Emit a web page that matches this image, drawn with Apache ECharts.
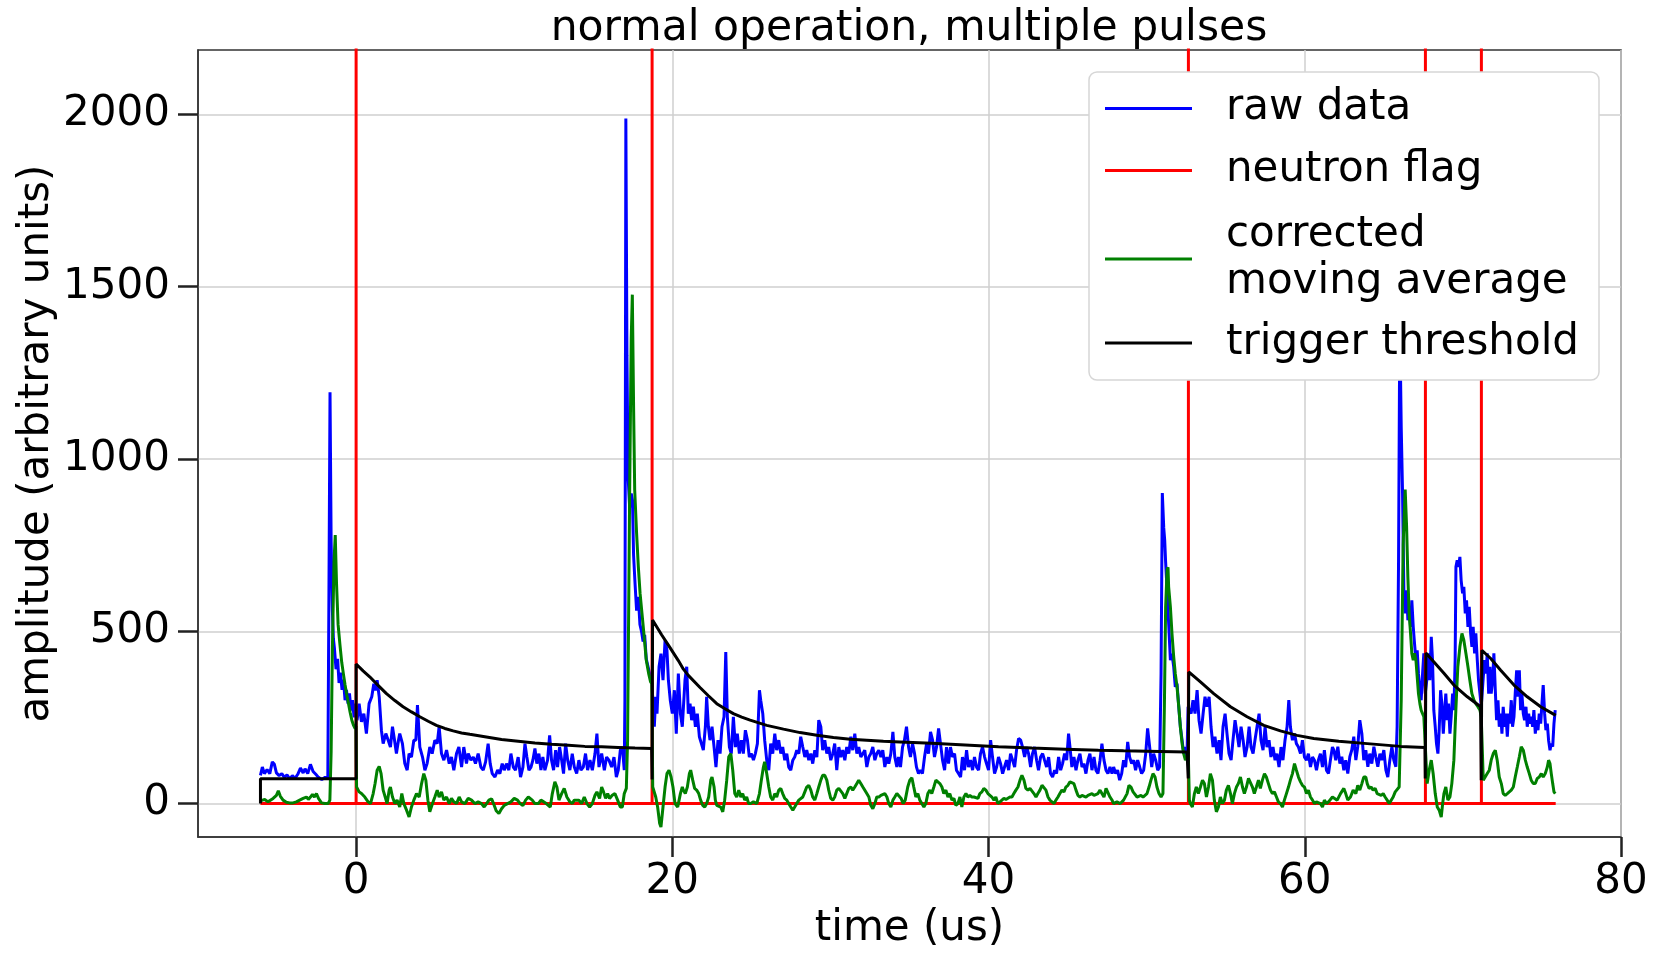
<!DOCTYPE html>
<html><head><meta charset="utf-8">
<script src="https://cdn.jsdelivr.net/npm/echarts@6/dist/echarts.min.js"></script>
<style>html,body{margin:0;padding:0;background:#fff}#c{width:1662px;height:957px}</style>
</head><body><div id="c"></div>
<script>
// time (us), amplitude
const rawData = [
[-6.05,82],[-5.93,106],[-5.80,87],[-5.63,99],[-5.46,87],[-5.30,121],[-5.17,114],[-5.04,89],[-4.87,81],[-4.70,87],[-4.54,76],[-4.37,83],[-4.20,72],[-4.03,81],[-3.86,73],[-3.69,85],[-3.52,103],[-3.35,89],[-3.23,101],[-3.06,87],[-2.89,114],[-2.72,93],[-2.55,85],[-2.38,76],[-2.17,70],[-1.96,76],[-1.79,72],[-1.72,600],[-1.65,1194],[-1.58,760],[-1.50,560],[-1.44,480],[-1.37,450],[-1.27,390],[-1.17,420],[-1.08,350],[-0.99,380],[-0.89,330],[-0.80,360],[-0.70,300],[-0.61,330],[-0.51,290],[-0.42,320],[-0.32,270],[-0.23,300],[-0.13,250],[-0.04,290],
[0.06,242],[0.19,290],[0.34,237],[0.49,261],[0.65,203],[0.82,290],[0.99,310],[1.12,348],[1.24,329],[1.33,358],[1.46,310],[1.60,213],[1.71,174],[1.88,203],[2.03,184],[2.17,164],[2.30,223],[2.43,184],[2.55,145],[2.68,184],[2.76,203],[2.93,174],[3.08,116],[3.23,97],[3.35,145],[3.50,135],[3.65,184],[3.78,184],[3.88,286],[4.03,164],[4.20,135],[4.35,97],[4.49,116],[4.66,164],[4.81,145],[4.98,184],[5.13,174],[5.25,223],[5.40,145],[5.55,126],[5.72,155],[5.89,116],[6.03,135],[6.18,97],[6.35,145],[6.50,164],[6.67,106],[6.81,164],[6.98,116],
[7.09,145],[7.26,126],[7.41,135],[7.55,116],[7.72,145],[7.89,106],[8.04,97],[8.19,121],[8.35,174],[8.48,116],[8.61,87],[8.78,77],[8.95,97],[9.09,87],[9.24,116],[9.37,97],[9.51,116],[9.66,97],[9.79,145],[9.94,106],[10.08,97],[10.25,135],[10.40,77],[10.55,106],[10.68,174],[10.80,135],[10.93,97],[11.06,106],[11.18,126],[11.31,160],[11.43,116],[11.56,145],[11.69,97],[11.81,135],[11.94,97],[12.11,126],[12.24,198],[12.36,126],[12.49,97],[12.62,155],[12.74,106],[12.87,164],[13.00,126],[13.12,87],[13.25,174],[13.38,126],[13.52,97],[13.67,145],[13.80,106],[13.95,87],[14.09,126],[14.22,97],[14.37,106],[14.51,145],[14.64,97],[14.79,126],[14.94,97],[15.11,145],[15.23,203],[15.36,106],[15.53,145],[15.70,97],[15.84,135],[15.99,126],[16.16,106],[16.31,135],[16.46,77],[16.58,97],[16.71,155],[16.84,164],[16.96,97],
[17.00,300],[17.06,1988],[17.13,1300],[17.20,950],[17.30,860],[17.40,900],[17.48,880],[17.55,720],[17.64,640],[17.74,560],[17.85,600],[17.95,520],[18.05,500],[18.15,470],[18.25,490],[18.35,420],[18.45,400],[18.55,380],[18.65,358],[18.71,348],
[18.86,223],[18.95,310],[19.03,261],[19.16,397],[19.28,435],[19.41,358],[19.54,474],[19.66,445],[19.75,358],[19.87,300],[20.00,261],[20.13,329],[20.25,203],[20.38,377],[20.51,261],[20.63,223],
[20.70,223],[20.80,358],[20.91,397],[21.01,261],[21.12,290],[21.22,242],[21.33,281],[21.46,223],[21.58,261],[21.71,194],[21.84,174],[21.96,155],[22.09,223],[22.17,310],[22.28,223],[22.38,184],[22.51,223],[22.64,164],[22.76,106],[22.89,184],[23.02,145],[23.14,223],[23.27,252],[23.38,440],[23.48,252],[23.61,164],[23.73,145],[23.86,252],[23.99,164],[24.11,203],[24.24,145],[24.37,184],[24.49,145],[24.62,213],[24.75,184],[24.87,135],[25.00,145],[25.13,126],[25.25,145],[25.38,174],[25.51,329],[25.59,300],[25.72,261],[25.84,184],[25.97,126],[26.10,97],[26.22,174],[26.35,145],[26.48,203],[26.60,155],[26.73,184],[26.86,145],[26.98,164],[27.11,126],[27.24,145],[27.36,106],[27.49,97],[27.62,126],[27.74,135],[27.87,155],[28.00,145],[28.12,194],[28.25,164],[28.38,135],[28.50,155],[28.63,126],[28.76,145],[28.88,116],[29.01,155],[29.14,135],[29.26,242],[29.39,223],[29.51,155],[29.64,184],[29.77,145],[29.89,164],[30.02,126],[30.15,145],[30.27,174],[30.40,97],[30.53,164],[30.65,135],[30.78,155],[30.91,126],[31.03,164],[31.16,145],[31.29,194],[31.41,155],[31.54,203],[31.67,145],[31.79,164],[31.92,135],[32.05,145],[32.17,155],[32.30,106],[32.43,135],[32.55,145],[32.68,164],[32.81,126],[32.93,145],[33.06,155],[33.19,135],[33.31,155],[33.44,106],[33.57,135],[33.69,116],[33.82,145],[33.95,208],[34.07,135],[34.20,106],
[34.30,135],[34.43,106],[34.56,164],[34.68,184],[34.81,223],[34.94,164],[35.06,135],[35.19,174],[35.32,145],[35.44,106],[35.57,87],[35.70,97],[35.82,87],[35.95,135],[36.08,174],[36.20,145],[36.33,208],[36.46,184],[36.58,135],[36.71,164],[36.84,218],[36.96,174],[37.09,126],[37.22,97],[37.34,164],[37.47,116],[37.59,164],[37.72,135],[37.85,145],[37.97,97],[38.10,87],[38.23,77],[38.35,135],[38.48,97],[38.61,155],[38.73,106],[38.86,126],[38.99,97],[39.11,135],[39.24,106],[39.37,97],[39.49,145],[39.62,164],[39.75,135],[39.87,116],[40.00,97],[40.13,184],[40.25,135],[40.38,87],[40.51,106],[40.63,135],[40.76,116],[40.89,87],[41.01,106],[41.14,126],[41.27,97],[41.39,145],[41.52,126],[41.65,106],[41.77,155],[41.90,189],[42.03,184],[42.15,164],[42.28,135],[42.41,164],[42.53,145],[42.66,106],[42.78,145],[42.91,164],[43.04,126],[43.16,97],[43.29,135],[43.42,145],[43.54,126],[43.67,106],[43.80,135],[43.92,87],[44.05,77],[44.18,97],[44.30,87],[44.43,135],[44.56,97],[44.68,116],[44.81,145],[44.94,126],[45.06,203],[45.15,164],[45.27,106],[45.40,135],[45.53,97],[45.65,126],[45.78,145],[45.91,106],[46.03,116],[46.16,87],[46.29,126],[46.41,145],[46.54,97],[46.67,135],[46.79,97],[46.92,87],[47.05,126],[47.17,174],[47.30,126],[47.43,97],[47.55,87],[47.68,106],[47.81,87],
[47.91,106],[48.04,87],[48.16,97],[48.29,68],[48.42,87],[48.54,126],[48.67,106],[48.80,179],[48.92,135],[49.05,116],[49.18,126],[49.30,97],[49.43,126],[49.56,106],[49.68,87],[49.81,97],[49.94,145],[50.06,218],[50.19,164],[50.32,106],[50.44,145],[50.57,126],[50.70,97],[50.82,106],[50.91,377],[50.99,901],[51.08,800],[51.14,765],[51.20,700],[51.29,620],[51.39,523],[51.50,416],[51.60,435],[51.71,397],[51.81,339],[51.92,348],[52.03,281],[52.13,223],[52.24,184],[52.34,145],[52.45,164],[52.55,135],[52.62,281],
[52.81,261],[52.93,300],[53.06,261],[53.19,329],[53.31,242],[53.44,203],[53.57,261],[53.69,310],[53.82,281],[53.95,310],[54.07,223],[54.20,164],[54.32,194],[54.45,145],[54.58,184],[54.70,126],[54.83,223],[54.96,261],[55.08,203],[55.21,145],[55.34,126],[55.46,184],[55.59,242],[55.72,203],[55.84,164],[55.97,223],[56.10,184],[56.22,135],[56.35,164],[56.48,223],[56.60,164],[56.73,145],[56.85,184],[56.98,223],[57.11,261],[57.23,184],[57.36,155],[57.49,223],[57.61,164],[57.74,184],[57.86,135],[57.99,164],[58.12,126],[58.24,145],[58.37,106],[58.50,164],[58.62,126],[58.75,184],[58.88,223],[58.99,300],[59.09,223],[59.22,184],[59.35,203],[59.47,174],[59.60,164],[59.73,145],[59.85,184],[59.98,135],[60.11,126],[60.23,145],[60.36,106],[60.49,135],[60.61,126],[60.74,97],[60.86,126],[60.99,145],[61.12,106],[61.24,155],[61.37,97],[61.50,87],[61.62,126],[61.75,164],
[61.84,155],[61.96,126],[62.09,165],[62.22,116],[62.34,136],[62.47,97],[62.59,126],[62.72,87],[62.85,136],[62.97,155],[63.10,194],[63.23,126],[63.35,165],[63.48,242],[63.61,203],[63.73,126],[63.86,155],[63.99,107],[64.11,145],[64.24,116],[64.37,165],[64.49,136],[64.62,107],[64.75,145],[64.87,126],[65.00,155],[65.13,97],[65.25,77],[65.38,126],[65.51,165],[65.63,126],[65.76,107],[65.84,223],[65.93,700],[66.01,1400],[66.10,1092],[66.18,910],[66.27,610],[66.35,552],[66.44,619],[66.52,532],[66.60,571],[66.69,513],[66.77,590],[66.86,513],[66.94,465],[67.03,416],[67.11,445],[67.19,377],[67.28,329],[67.36,300],[67.45,377],[67.53,436],[67.62,319],
[67.74,368],[67.83,436],[67.91,358],[68.00,484],[68.08,416],[68.16,271],[68.25,223],[68.33,174],[68.42,145],[68.50,213],[68.59,329],[68.67,290],[68.76,203],[68.84,261],[68.92,319],[69.01,242],[69.09,290],[69.18,203],[69.26,252],[69.35,319],[69.43,271],[69.51,416],[69.56,687],[69.64,706],[69.73,687],[69.81,716],[69.89,648],[69.98,610],[70.06,629],[70.15,552],[70.23,590],[70.32,513],[70.40,571],[70.49,494],[70.57,455],[70.65,513],[70.74,436],[70.82,494],[70.91,416],[70.99,358],[71.08,319],[71.16,281],
[71.29,368],[71.37,416],[71.46,377],[71.54,436],[71.63,319],[71.71,397],[71.79,319],[71.88,358],[71.96,436],[72.05,329],[72.13,242],[72.22,300],[72.30,223],[72.39,261],[72.47,203],[72.55,281],[72.64,223],[72.72,261],[72.81,194],[72.89,261],[72.97,232],[73.06,300],[73.14,223],[73.23,252],[73.31,319],[73.40,387],[73.48,310],[73.57,387],[73.65,271],[73.73,319],[73.82,261],[73.90,242],[73.99,281],[74.07,223],[74.16,261],[74.24,232],[74.32,252],[74.41,223],[74.49,271],[74.58,203],[74.66,242],[74.75,213],[74.83,261],[74.92,232],[75.00,290],[75.08,344],[75.17,261],[75.25,213],[75.34,232],[75.42,184],[75.51,155],[75.59,174],[75.68,165],[75.76,232],[75.84,271]
];
const movingAverage = [
[-6.05,8],[-5.78,12],[-5.57,5],[-5.25,15],[-5.04,24],[-4.92,37],[-4.79,21],[-4.62,10],[-4.41,4],[-4.20,2],[-3.99,2],[-3.78,5],[-3.57,10],[-3.35,15],[-3.14,19],[-3.02,12],[-2.89,19],[-2.76,27],[-2.64,19],[-2.51,29],[-2.38,15],[-2.19,2],[-1.98,0],[-1.77,0],[-1.66,10],[-1.58,150],[-1.50,450],[-1.40,700],[-1.32,779],[-1.24,640],[-1.14,520],[-1.02,460],[-0.91,410],[-0.80,375],[-0.70,345],[-0.59,315],[-0.48,290],[-0.38,265],[-0.27,242],[-0.17,228],[-0.06,218],[-0.01,225],
[0.03,48],[0.19,34],[0.34,29],[0.55,19],[0.76,5],[0.91,0],[1.08,29],[1.20,58],[1.33,97],[1.46,108],[1.58,87],[1.71,39],[1.84,19],[1.96,0],[2.09,39],[2.17,48],[2.30,19],[2.45,0],[2.59,10],[2.76,-10],[2.89,29],[3.02,0],[3.19,-19],[3.35,-39],[3.50,-10],[3.65,10],[3.82,29],[3.99,19],[4.14,58],[4.28,87],[4.41,68],[4.54,10],[4.66,-24],[4.83,0],[4.98,19],[5.13,39],[5.25,19],[5.40,34],[5.55,10],[5.72,19],[5.89,0],[6.03,15],[6.18,5],[6.35,0],[6.52,19],[6.67,5],[6.88,0],
[7.09,15],[7.30,10],[7.51,0],[7.72,5],[7.93,0],[8.10,-10],[8.25,0],[8.40,10],[8.57,14],[8.69,0],[8.86,-21],[9.03,-29],[9.20,-15],[9.37,-5],[9.58,0],[9.79,5],[10.00,15],[10.21,10],[10.38,0],[10.55,-6],[10.72,10],[10.89,19],[11.01,24],[11.14,10],[11.31,0],[11.52,0],[11.69,10],[11.86,5],[12.03,0],[12.15,5],[12.28,-10],[12.41,29],[12.57,63],[12.70,48],[12.83,10],[13.00,29],[13.16,44],[13.33,19],[13.52,5],[13.67,0],[13.80,10],[13.92,15],[14.09,10],[14.26,0],[14.43,19],[14.60,0],[14.77,-10],[14.94,0],[15.11,24],[15.23,34],[15.40,15],[15.53,48],[15.65,34],[15.78,15],[15.91,29],[16.03,15],[16.20,24],[16.37,29],[16.54,10],[16.71,-10],[16.84,-10],[16.96,29],[17.09,44],[17.17,184],[17.30,900],[17.40,1350],[17.47,1477],[17.55,1150],[17.62,910],[17.74,784],[17.85,687],[17.96,610],[18.08,552],[18.20,494],[18.35,417],[18.50,378],[18.62,354],[18.70,348],
[18.76,48],[18.95,19],[19.07,-10],[19.20,-58],[19.28,-68],[19.41,-10],[19.54,48],[19.66,87],[19.79,97],[19.92,77],[20.04,48],[20.17,0],[20.34,-10],[20.51,29],[20.63,48],
[20.70,39],[20.82,29],[20.95,48],[21.08,87],[21.16,97],[21.29,68],[21.41,44],[21.54,39],[21.67,29],[21.79,10],[21.92,-5],[22.05,-10],[22.17,0],[22.30,19],[22.43,68],[22.51,77],[22.64,48],[22.72,10],[22.81,-5],[22.93,0],[23.06,-10],[23.19,-24],[23.31,10],[23.44,68],[23.57,136],[23.70,145],[23.82,97],[23.95,29],[24.07,19],[24.20,39],[24.33,19],[24.45,29],[24.58,10],[24.70,19],[24.83,0],[24.96,0],[25.13,5],[25.34,0],[25.51,29],[25.63,68],[25.76,106],[25.84,121],[25.97,87],[26.10,48],[26.22,19],[26.35,10],[26.48,29],[26.60,19],[26.73,39],[26.86,44],[26.98,29],[27.11,15],[27.24,10],[27.36,0],[27.49,-10],[27.62,-19],[27.74,-10],[27.87,0],[28.00,10],[28.12,15],[28.25,19],[28.38,34],[28.50,48],[28.63,53],[28.76,39],[28.88,19],[29.01,10],[29.14,29],[29.26,48],[29.39,68],[29.51,82],[29.64,82],[29.77,68],[29.89,39],[30.02,15],[30.15,10],[30.27,19],[30.40,39],[30.53,44],[30.65,39],[30.78,29],[30.91,15],[31.03,29],[31.16,44],[31.29,48],[31.41,39],[31.54,48],[31.67,58],[31.79,68],[31.92,58],[32.05,48],[32.17,44],[32.30,29],[32.43,19],[32.55,-5],[32.68,-15],[32.81,0],[32.93,19],[33.06,19],[33.19,24],[33.31,19],[33.44,29],[33.57,19],[33.69,0],[33.82,-10],[33.95,10],[34.07,19],[34.20,29],
[34.30,29],[34.47,15],[34.60,0],[34.73,10],[34.89,48],[35.02,68],[35.15,75],[35.27,48],[35.40,19],[35.53,29],[35.65,10],[35.78,0],[35.91,-10],[36.03,0],[36.16,29],[36.29,39],[36.41,29],[36.54,48],[36.67,68],[36.79,63],[36.92,58],[37.05,48],[37.17,29],[37.30,39],[37.43,19],[37.55,29],[37.68,10],[37.81,15],[37.93,-5],[38.06,0],[38.19,19],[38.31,-10],[38.44,19],[38.57,29],[38.69,19],[38.82,24],[38.95,19],[39.08,19],[39.20,24],[39.33,15],[39.45,29],[39.58,34],[39.70,44],[39.83,39],[39.96,29],[40.08,24],[40.21,19],[40.34,10],[40.46,19],[40.59,0],[40.72,5],[40.84,10],[40.97,15],[41.10,12],[41.22,15],[41.35,19],[41.48,19],[41.60,29],[41.73,39],[41.86,48],[41.99,68],[42.11,82],[42.24,68],[42.36,44],[42.49,39],[42.62,44],[42.74,39],[42.87,29],[43.00,19],[43.12,29],[43.25,39],[43.38,53],[43.50,48],[43.63,39],[43.76,19],[43.88,10],[44.01,5],[44.14,0],[44.26,10],[44.39,19],[44.51,29],[44.64,39],[44.77,34],[44.89,48],[45.02,53],[45.15,63],[45.27,68],[45.40,58],[45.53,39],[45.65,24],[45.78,19],[45.91,24],[46.03,29],[46.16,19],[46.29,24],[46.41,19],[46.54,29],[46.67,24],[46.79,19],[46.92,29],[47.05,39],[47.17,29],[47.30,19],[47.43,44],[47.55,41],[47.68,19],[47.81,10],
[47.91,0],[48.12,5],[48.33,0],[48.54,10],[48.76,29],[48.88,53],[49.01,48],[49.14,34],[49.26,29],[49.39,19],[49.51,15],[49.64,24],[49.77,19],[49.89,15],[50.02,29],[50.15,48],[50.27,68],[50.40,87],[50.53,77],[50.65,48],[50.78,29],[50.91,19],[51.03,29],[51.12,281],[51.20,571],[51.29,678],[51.35,686],[51.39,629],[51.50,571],[51.60,494],[51.71,426],[51.81,377],[51.92,339],[52.03,281],[52.13,223],[52.24,174],[52.34,145],[52.45,126],[52.55,135],[52.63,150],
[52.70,10],[52.76,0],[52.89,-10],[53.02,29],[53.14,48],[53.27,29],[53.40,48],[53.53,68],[53.65,58],[53.78,19],[53.91,48],[54.03,87],[54.16,68],[54.28,10],[54.41,-24],[54.54,-10],[54.66,19],[54.79,0],[54.92,10],[55.04,39],[55.17,53],[55.30,29],[55.42,0],[55.55,29],[55.68,48],[55.80,58],[55.93,77],[56.06,48],[56.18,29],[56.31,48],[56.44,73],[56.56,68],[56.69,48],[56.81,29],[56.94,48],[57.07,68],[57.19,44],[57.32,68],[57.45,87],[57.57,77],[57.70,58],[57.83,39],[57.95,29],[58.08,34],[58.21,19],[58.33,5],[58.46,0],[58.59,-10],[58.71,10],[58.84,29],[58.97,48],[59.09,68],[59.22,87],[59.35,116],[59.47,97],[59.60,77],[59.73,63],[59.85,53],[59.98,48],[60.11,29],[60.23,39],[60.36,19],[60.49,10],[60.61,0],[60.74,5],[60.86,10],[60.99,0],[61.12,-10],[61.24,10],[61.37,0],[61.50,5],[61.62,10],[61.75,19],
[61.84,19],[62.05,10],[62.26,29],[62.47,44],[62.59,29],[62.72,10],[62.89,19],[63.06,39],[63.23,29],[63.35,53],[63.48,39],[63.61,58],[63.73,77],[63.86,77],[63.95,58],[64.07,44],[64.20,48],[64.32,39],[64.45,44],[64.58,29],[64.70,34],[64.83,24],[64.96,29],[65.08,19],[65.21,10],[65.34,0],[65.46,5],[65.59,19],[65.72,34],[65.84,39],[65.97,48],[66.10,300],[66.22,750],[66.35,911],[66.44,803],[66.52,658],[66.60,552],[66.69,494],[66.77,436],[66.86,416],[66.94,436],[67.03,416],[67.11,368],[67.19,319],[67.28,290],[67.36,271],[67.45,261],[67.53,252],[67.62,250],
[67.74,58],[67.87,97],[68.00,126],[68.12,87],[68.25,29],[68.38,-10],[68.50,-19],[68.63,-39],[68.72,0],[68.80,29],[68.92,48],[69.05,10],[69.18,19],[69.30,58],[69.43,126],[69.51,223],[69.60,319],[69.68,397],[69.81,455],[69.94,494],[70.06,474],[70.19,436],[70.32,397],[70.44,358],[70.57,319],[70.70,300],[70.82,290],[70.95,281],[71.08,271],[71.16,252],
[71.29,68],[71.41,77],[71.54,87],[71.67,97],[71.79,126],[71.92,145],[72.05,155],[72.17,126],[72.30,77],[72.43,58],[72.55,29],[72.68,24],[72.81,29],[72.93,29],[73.06,39],[73.19,48],[73.31,77],[73.44,106],[73.57,136],[73.69,165],[73.82,155],[73.95,126],[74.07,106],[74.20,87],[74.32,68],[74.45,58],[74.58,58],[74.70,73],[74.83,77],[74.96,87],[75.08,77],[75.21,87],[75.34,106],[75.42,126],[75.51,116],[75.59,87],[75.68,58],[75.76,34],[75.84,29]
];
const triggerThreshold = [
[-6.05,0],[-6.05,72],[0,72],[0,405],[0.44,385],[0.86,368],[1.39,343],[1.92,319],[2.45,299],[2.97,281],[3.50,266],[4.03,252],[4.56,239],[5.08,227],[5.61,218],[6.14,211],[6.67,205],[7.19,201],[8.14,194],[9.20,186],[10.25,181],[11.31,176],[12.36,172],[13.42,169],[14.47,166],[15.53,165],[16.58,163],[17.64,161],[18.69,160],[18.72,70],
[18.75,533],[19.32,490],[19.75,460],[20.38,415],[20.70,390],[21.01,372],[21.75,337],[22.28,313],[22.81,290],[23.33,275],[23.86,261],[24.39,251],[24.92,242],[25.97,227],[27.03,216],[28.08,206],[29.14,198],[30.19,192],[31.25,187],[32.30,184],[33.35,181],[34.40,179],[36.41,175],[38.52,170],[40.63,165],[42.74,161],[44.85,158],[46.96,155],[48.54,153],[50.02,152],[52.55,150],[52.63,73],
[52.66,382],[53.40,353],[54.24,319],[55.30,281],[56.35,252],[57.41,227],[58.46,211],[59.51,198],[60.57,189],[62.15,181],[63.95,174],[66.05,166],[67.60,163],[67.62,73],
[67.66,437],[68.17,411],[68.80,378],[69.43,344],[70.28,310],[71.12,281],[71.16,68],
[71.20,445],[71.76,421],[72.39,387],[73.23,344],[74.07,310],[74.92,281],[75.76,259],[75.87,256]
];
const flagTimes = [0, 18.72, 52.64, 67.63, 71.17];
const flagStart = -6.05, flagEnd = 75.87, flagHigh = 3000;
const xTicks = [0, 20, 40, 60, 80];
const yTicks = [0, 500, 1000, 1500, 2000];
const seriesNames = ['raw data', 'neutron flag', 'corrected moving average', 'trigger threshold'];
const legendLabels = ['raw data', 'neutron flag', 'corrected\nmoving average', 'trigger threshold'];

const flagData = [[flagStart, 0]];
flagTimes.forEach(t => { flagData.push([t, 0], [t, flagHigh], [t, 0]); });
flagData.push([flagEnd, 0]);

const FONT = 'DejaVu Sans';
const LH = 47;
const chart = echarts.init(document.getElementById('c'), null, {renderer: 'canvas'});
const legendCenters = [108.5, 170.5, 259, 343];
const legends = seriesNames.map((n, i) => {
  const lines = legendLabels[i].split('\n').length;
  return {
    data: [n], left: 1105, top: legendCenters[i] - lines * LH / 2, orient: 'vertical',
    itemWidth: 87, itemHeight: 3, icon: 'rect', padding: 0, itemGap: 0, z: 6,
    selectedMode: false,
    formatter: () => legendLabels[i],
    textStyle: {fontFamily: FONT, fontSize: 42, color: '#000', lineHeight: LH, padding: [0, 0, 0, 29]}
  };
});

const lineSeries = (name, data, color) => ({
  name, type: 'line', data, color, showSymbol: false, symbol: 'none',
  lineStyle: {color, width: 3}, z: 2, animation: false, clip: true
});

chart.setOption({
  animation: false,
  backgroundColor: '#fff',
  title: {
    text: 'normal operation, multiple pulses', left: 904, top: 2, textAlign: 'center',
    textStyle: {fontFamily: FONT, fontSize: 42.5, fontWeight: 'normal', color: '#000'}
  },
  legend: legends,
  graphic: {elements: [{
    type: 'rect', z: 3, shape: {x: 1089, y: 72, width: 510, height: 308, r: 8},
    style: {fill: '#fff', stroke: '#d6d6d6', lineWidth: 1.5}
  }]},
  grid: {left: 198, right: 41, top: 50, bottom: 120, show: true, borderColor: '#333', borderWidth: 1.5,
         backgroundColor: 'transparent', outerBoundsMode: 'none', containLabel: false},
  xAxis: {
    type: 'value', min: -10, max: 80, splitNumber: 5,
    name: 'time (us)', nameLocation: 'middle', nameGap: 71, nameMoveOverlap: false,
    nameTextStyle: {fontFamily: FONT, fontSize: 42, color: '#000'},
    axisLine: {show: true, onZero: false, lineStyle: {color: '#333', width: 1.5}},
    axisTick: {show: true, length: 20, customValues: xTicks, lineStyle: {color: '#222', width: 2.5}},
    axisLabel: {customValues: xTicks, margin: 24, fontFamily: FONT, fontSize: 42, color: '#000', formatter: v => String(v)},
    splitLine: {show: true, lineStyle: {color: '#cfcfcf', width: 1.5}}
  },
  yAxis: {
    type: 'value', min: -97, max: 2187, splitNumber: 5,
    name: 'amplitude (arbitrary units)', nameLocation: 'middle', nameGap: 140, nameRotate: 90, nameMoveOverlap: false,
    nameTextStyle: {fontFamily: FONT, fontSize: 42, color: '#000'},
    axisLine: {show: true, onZero: false, lineStyle: {color: '#333', width: 1.5}},
    axisTick: {show: true, length: 20, customValues: yTicks, lineStyle: {color: '#222', width: 2.5}},
    axisLabel: {customValues: yTicks, margin: 28, fontFamily: FONT, fontSize: 42, color: '#000', formatter: v => String(v)},
    splitLine: {show: true, lineStyle: {color: '#cfcfcf', width: 1.5}}
  },
  series: [
    lineSeries(seriesNames[0], rawData, '#0000ff'),
    lineSeries(seriesNames[1], flagData, '#ff0000'),
    lineSeries(seriesNames[2], movingAverage, '#008000'),
    lineSeries(seriesNames[3], triggerThreshold, '#000000')
  ]
});
</script></body></html>
